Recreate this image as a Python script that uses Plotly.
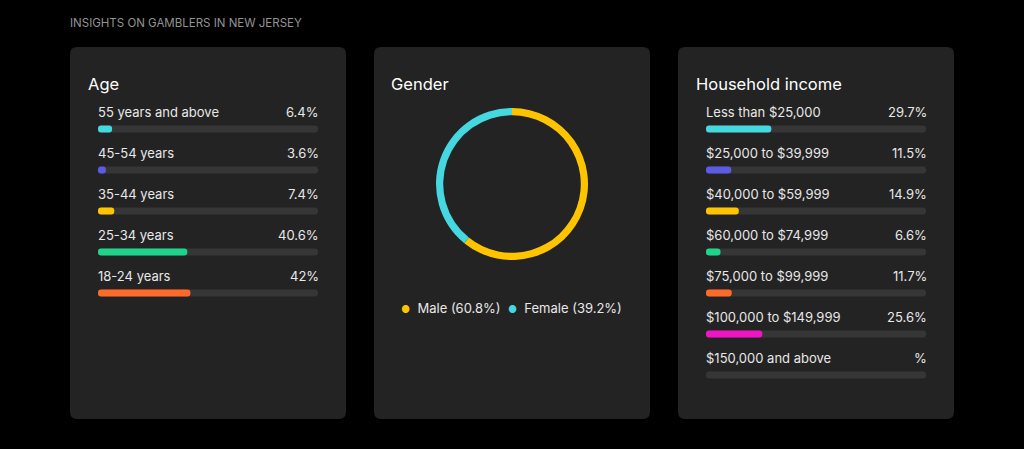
import plotly.graph_objects as go

W, H = 1024, 449

# ---------------- data ----------------
title_text = "INSIGHTS ON GAMBLERS IN NEW JERSEY"

age_labels = ["55 years and above", "45-54 years", "35-44 years", "25-34 years", "18-24 years"]
age_values = [6.4, 3.6, 7.4, 40.6, 42]
age_colors = ["#45D8E0", "#5B5BE3", "#FFC400", "#1ED38A", "#FF6A2B"]

gender_labels = ["Male", "Female"]
gender_values = [60.8, 39.2]
gender_colors = ["#FFC400", "#45D8E0"]

income_labels = ["Less than $25,000", "$25,000 to $39,999", "$40,000 to $59,999",
                 "$60,000 to $74,999", "$75,000 to $99,999", "$100,000 to $149,999",
                 "$150,000 and above"]
income_values = [29.7, 11.5, 14.9, 6.6, 11.7, 25.6, None]
income_colors = ["#45D8E0", "#5B5BE3", "#FFC400", "#1ED38A", "#FF6A2B", "#F014C3", "#F014C3"]

# ---------------- style ----------------
BG = "#000000"
PANEL = "#232323"
TRACK = "#363636"
TEXT = "#E8E8E8"
FONT = "Inter"


def fx(x):
    return x / W


def fy(y):
    return 1 - y / H


def fmt(v):
    return "%" if v is None else f"{v:g}%"


fig = go.Figure()


def pill(vals, idx, color, xa, ya, hover=None):
    # explicit base -> plotly rounds both ends of the bar
    fig.add_trace(go.Bar(
        x=vals, base=[0] * len(vals), y=idx, orientation="h", width=0.17,
        marker=dict(color=color, cornerradius="50%", line=dict(width=0)),
        xaxis=xa, yaxis=ya, showlegend=False,
        hoverinfo="skip" if hover is None else None,
        customdata=hover,
        hovertemplate=None if hover is None else "%{customdata}<extra></extra>"))


def add_bars(labels, values, colors, xa, ya):
    n = len(labels)
    idx = list(range(n))
    pill([100] * n, idx, TRACK, xa, ya)
    vals = [v if v is not None else 0 for v in values]
    pill(vals, idx, colors, xa, ya, hover=[f"{l}: {fmt(v)}" for l, v in zip(labels, values)])
    for i, (lab, v) in enumerate(zip(labels, values)):
        fig.add_annotation(x=0, y=i, xref=xa, yref=ya, text=lab, showarrow=False,
                           xanchor="left", yanchor="middle", yshift=17, xshift=-2,
                           font=dict(family=FONT, size=13, color=TEXT))
        fig.add_annotation(x=100, y=i, xref=xa, yref=ya, text=fmt(v), showarrow=False,
                           xanchor="right", yanchor="middle", yshift=17, xshift=3,
                           font=dict(family=FONT, size=13, color=TEXT))


add_bars(age_labels, age_values, age_colors, "x", "y")
add_bars(income_labels, income_values, income_colors, "x2", "y2")

# donut
fig.add_trace(go.Pie(
    labels=gender_labels, values=gender_values, hole=0.905, sort=False,
    direction="clockwise", rotation=0, textinfo="none",
    marker=dict(colors=gender_colors, line=dict(width=0)),
    domain=dict(x=[fx(436), fx(588)], y=[fy(260), fy(108)]),
    showlegend=False))


def rounded(x0, y0, x1, y1, r=7):
    X = lambda v: fx(v)
    Y = lambda v: fy(v)
    return (f"M {X(x0+r)},{Y(y0)} L {X(x1-r)},{Y(y0)} Q {X(x1)},{Y(y0)} {X(x1)},{Y(y0+r)} "
            f"L {X(x1)},{Y(y1-r)} Q {X(x1)},{Y(y1)} {X(x1-r)},{Y(y1)} "
            f"L {X(x0+r)},{Y(y1)} Q {X(x0)},{Y(y1)} {X(x0)},{Y(y1-r)} "
            f"L {X(x0)},{Y(y0+r)} Q {X(x0)},{Y(y0)} {X(x0+r)},{Y(y0)} Z")


shapes = []
for x0 in (70, 374, 678):
    shapes.append(dict(type="path", xref="paper", yref="paper", layer="below",
                       path=rounded(x0, 47, x0 + 276, 419), fillcolor=PANEL,
                       line=dict(width=0)))

ann = [
    dict(x=fx(70), y=fy(23.5), text=title_text, font=dict(family=FONT, size=11.5, color="#939393")),
    dict(x=fx(88), y=fy(84), text="Age", font=dict(family=FONT, size=16.5, color="#FFFFFF")),
    dict(x=fx(391), y=fy(84), text="Gender", font=dict(family=FONT, size=16.5, color="#FFFFFF")),
    dict(x=fx(696), y=fy(84), text="Household income", font=dict(family=FONT, size=16.5, color="#FFFFFF")),
]
for a in ann:
    a.update(xref="paper", yref="paper", xanchor="left", yanchor="middle", showarrow=False, xshift=-2)
    fig.add_annotation(**a)

legend_txt = "&nbsp;&nbsp;".join(
    f"<span style='color:{c};font-size:10px'>●</span>&nbsp; {l} ({fmt(v)})"
    for l, v, c in zip(gender_labels, gender_values, gender_colors))
fig.add_annotation(x=fx(511), y=fy(308), xref="paper", yref="paper", text=legend_txt,
                   showarrow=False, xanchor="center", yanchor="middle",
                   font=dict(family=FONT, size=13, color=TEXT))

ax_common = dict(showgrid=False, zeroline=False, showticklabels=False, showline=False,
                 fixedrange=True, ticks="")
fig.update_layout(
    width=W, height=H, margin=dict(l=0, r=0, t=0, b=0),
    paper_bgcolor=BG, plot_bgcolor="rgba(0,0,0,0)",
    barmode="overlay", shapes=shapes, showlegend=False,
    xaxis=dict(domain=[fx(98), fx(318)], range=[0, 100], anchor="y", **ax_common),
    yaxis=dict(domain=[fy(313.5), fy(108.5)], range=[4.5, -0.5], anchor="x", **ax_common),
    xaxis2=dict(domain=[fx(706), fx(926)], range=[0, 100], anchor="y2", **ax_common),
    yaxis2=dict(domain=[fy(395.5), fy(108.5)], range=[6.5, -0.5], anchor="x2", **ax_common),
)

fig.write_html("out.html", config={"displayModeBar": False},
               post_script="document.body.style.margin='0';document.body.style.background='#000';")
